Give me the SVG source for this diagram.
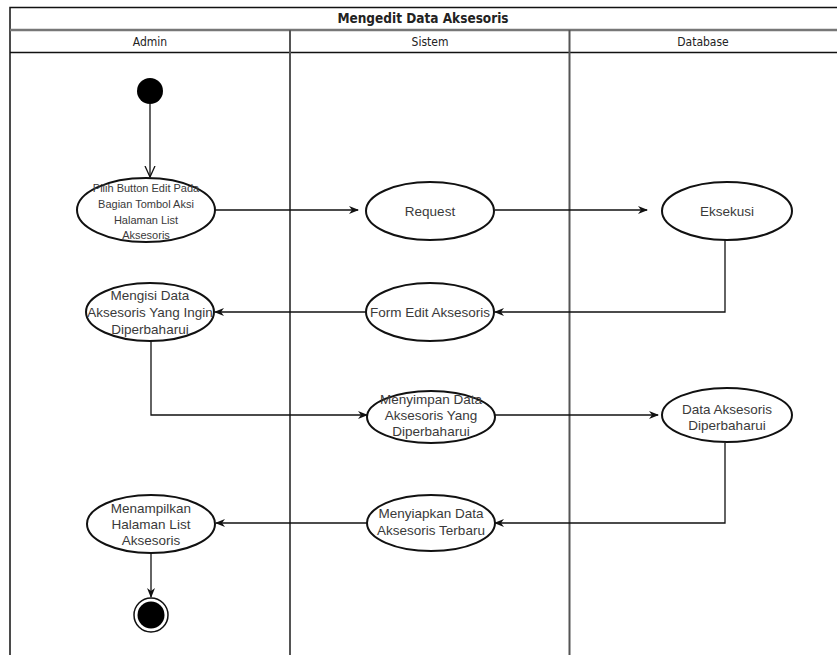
<svg xmlns="http://www.w3.org/2000/svg" width="837" height="655" viewBox="0 0 837 655">
<style>
.frame{fill:none;stroke:#111;stroke-width:1.5}
.lane{stroke:#555;stroke-width:2}
.node{fill:#fff;stroke:#111;stroke-width:2}
.t{font-family:"Liberation Sans",Arial,sans-serif;font-size:13.5px;fill:#3a3a3a;text-anchor:middle}
.ts{font-family:"Liberation Sans",Arial,sans-serif;font-size:11px;fill:#3a3a3a;text-anchor:middle}
.h{font-family:"DejaVu Sans Condensed","DejaVu Sans",sans-serif;font-size:12px;fill:#222;text-anchor:middle}
.title{font-family:"DejaVu Sans Condensed","DejaVu Sans",sans-serif;font-size:13.5px;font-weight:bold;fill:#222;text-anchor:middle}
.c{fill:none;stroke:#111;stroke-width:1.3}
</style>
<defs>
<marker id="arr" viewBox="0 0 10 10" refX="9" refY="5" markerWidth="10" markerHeight="10" markerUnits="userSpaceOnUse" orient="auto">
<path d="M0,1 L10,5 L0,9 L3,5 Z" fill="#111"/>
</marker>
<marker id="open" viewBox="0 0 12 12" refX="11" refY="6" markerWidth="12" markerHeight="12" markerUnits="userSpaceOnUse" orient="auto">
<path d="M0,1 L11,6 L0,11" fill="none" stroke="#111" stroke-width="1.3"/>
</marker>
</defs>
<rect width="837" height="655" fill="#fff"/>
<g id="pool">
<path class="frame" d="M10,660 V7.5 H840"/>
<line x1="10" y1="30" x2="837" y2="30" stroke="#777" stroke-width="2.5"/>
<line x1="10" y1="52.5" x2="837" y2="52.5" stroke="#111" stroke-width="1.5"/>
<line class="lane" x1="290" y1="30" x2="290" y2="660"/>
<line class="lane" x1="569.5" y1="30" x2="569.5" y2="660"/>
<text class="title" x="423" y="23">Mengedit Data Aksesoris</text>
<text class="h" x="150" y="46">Admin</text>
<text class="h" x="430" y="46">Sistem</text>
<text class="h" x="703" y="46">Database</text>
</g>
<g id="connectors">
<line class="c" x1="150" y1="104" x2="150" y2="177" marker-end="url(#open)"/>
<line class="c" x1="215" y1="210" x2="358" y2="210" marker-end="url(#arr)"/>
<line class="c" x1="495" y1="210" x2="647" y2="210" marker-end="url(#arr)"/>
<polyline class="c" points="725,240 725,312 495,312" marker-end="url(#arr)"/>
<line class="c" x1="367" y1="312" x2="215" y2="312" marker-end="url(#arr)"/>
<polyline class="c" points="151,341 151,415 367,415" marker-end="url(#arr)"/>
<line class="c" x1="495" y1="415" x2="658" y2="415" marker-end="url(#arr)"/>
<polyline class="c" points="725,443 725,523 495,523" marker-end="url(#arr)"/>
<line class="c" x1="367" y1="523" x2="216" y2="523" marker-end="url(#arr)"/>
<line class="c" x1="151" y1="553" x2="151" y2="597" marker-end="url(#arr)"/>
</g>
<g id="start"><circle cx="150" cy="91" r="13" fill="#000"/></g>
<g id="n1">
<ellipse class="node" cx="146" cy="210" rx="69" ry="32"/>
<text class="ts" x="146" y="192">Pilih Button Edit Pada</text>
<text class="ts" x="146" y="208">Bagian Tombol Aksi</text>
<text class="ts" x="146" y="224">Halaman List</text>
<text class="ts" x="146" y="239">Aksesoris</text>
</g>
<g id="request">
<ellipse class="node" cx="430" cy="211" rx="64" ry="29"/>
<text class="t" x="430" y="216">Request</text>
</g>
<g id="eksekusi">
<ellipse class="node" cx="727" cy="211" rx="65" ry="29"/>
<text class="t" x="727" y="216">Eksekusi</text>
</g>
<g id="form">
<ellipse class="node" cx="430" cy="312" rx="64" ry="29"/>
<text class="t" x="430" y="317">Form Edit Aksesoris</text>
</g>
<g id="mengisi">
<ellipse class="node" cx="150" cy="312" rx="64" ry="29"/>
<text class="t" x="150" y="300">Mengisi Data</text>
<text class="t" x="150" y="317">Aksesoris Yang Ingin</text>
<text class="t" x="150" y="334">Diperbaharui</text>
</g>
<g id="menyimpan">
<ellipse class="node" cx="431" cy="417" rx="64" ry="26"/>
<text class="t" x="431" y="404">Menyimpan Data</text>
<text class="t" x="431" y="420">Aksesoris Yang</text>
<text class="t" x="431" y="436">Diperbaharui</text>
</g>
<g id="data">
<ellipse class="node" cx="727" cy="415" rx="65" ry="27"/>
<text class="t" x="727" y="414">Data Aksesoris</text>
<text class="t" x="727" y="430">Diperbaharui</text>
</g>
<g id="menyiapkan">
<ellipse class="node" cx="431" cy="523" rx="64" ry="28"/>
<text class="t" x="431" y="518">Menyiapkan Data</text>
<text class="t" x="431" y="535">Aksesoris Terbaru</text>
</g>
<g id="menampilkan">
<ellipse class="node" cx="151" cy="524" rx="64" ry="29"/>
<text class="t" x="151" y="513">Menampilkan</text>
<text class="t" x="151" y="529">Halaman List</text>
<text class="t" x="151" y="545">Aksesoris</text>
</g>
<g id="end">
<circle cx="151" cy="615" r="17" fill="#fff" stroke="#111" stroke-width="1.5"/>
<circle cx="151" cy="615" r="13.5" fill="#000"/>
</g>
</svg>
